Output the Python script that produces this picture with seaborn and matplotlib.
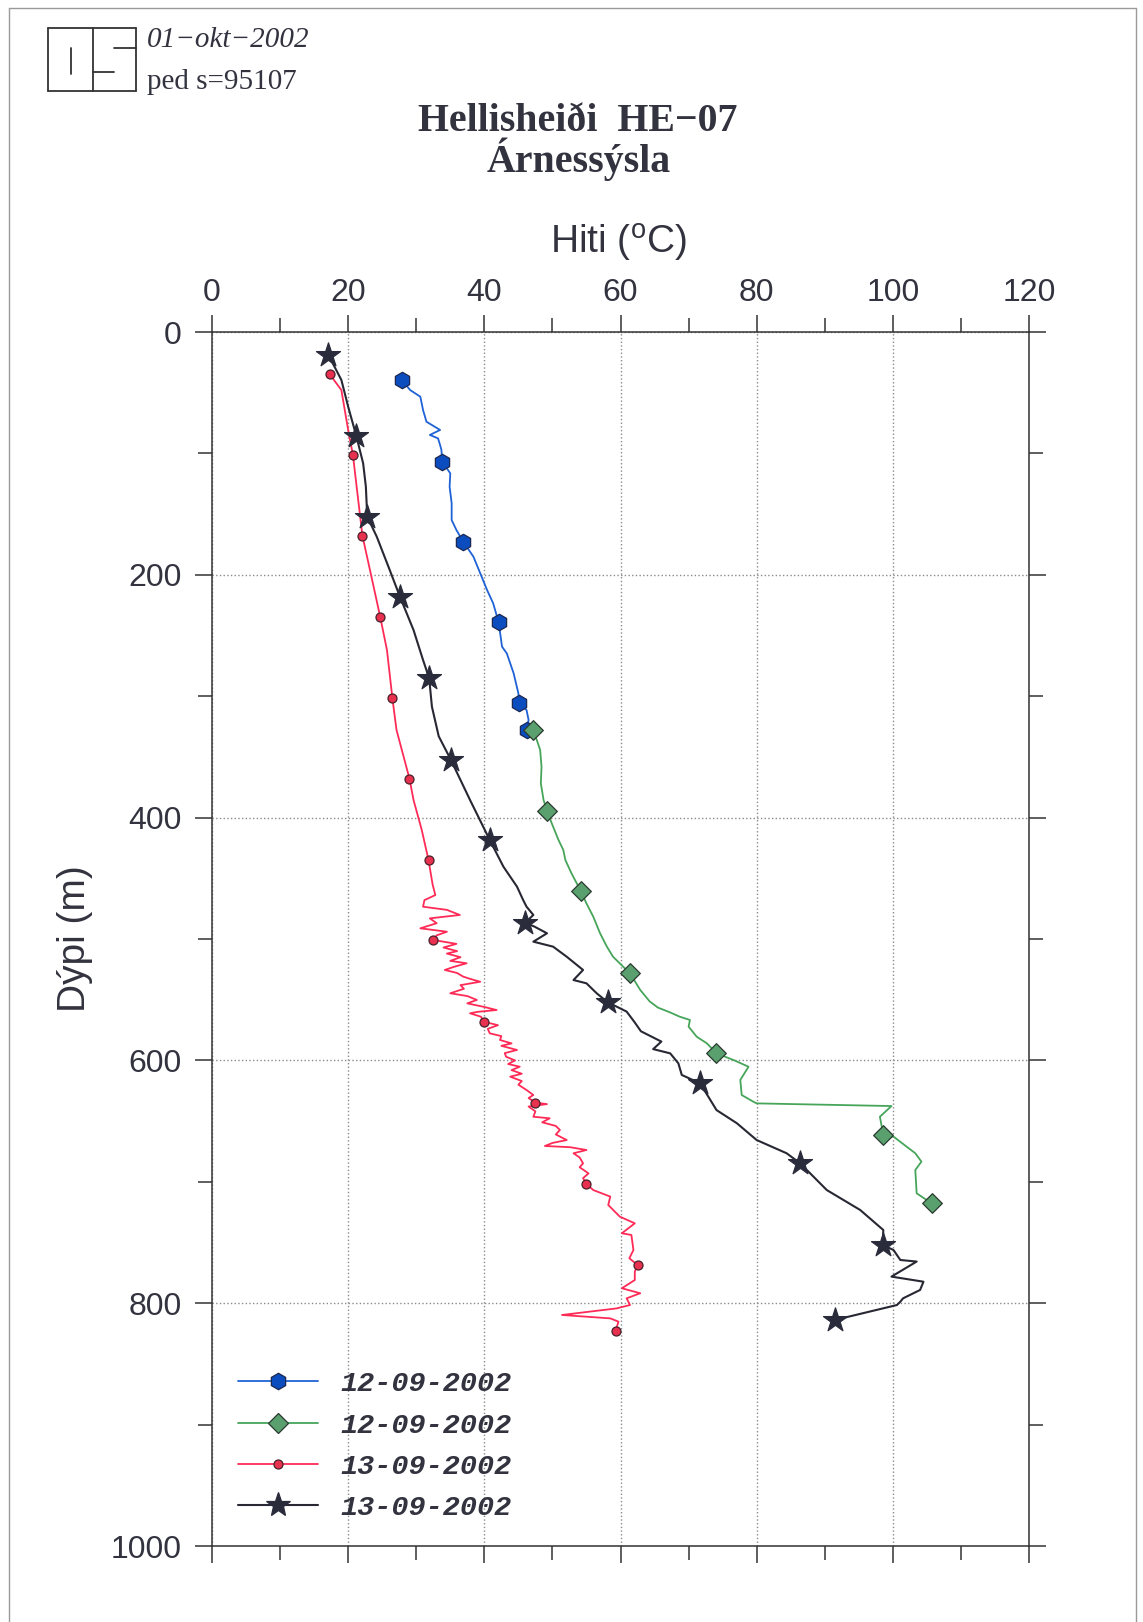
import matplotlib
matplotlib.use("Agg")
import matplotlib.pyplot as plt
import seaborn as sns
from matplotlib.lines import Line2D
from matplotlib.ticker import MultipleLocator
from matplotlib.font_manager import FontProperties

# --- data (temperature degC, depth m) ---
blue_t = [27.9, 29.1, 30.6, 31.0, 31.5, 33.5, 32.0, 33.2, 33.5, 33.7, 33.8, 35.0, 34.9, 35.2, 35.2,
          35.9, 36.9, 38.4, 39.4, 40.4, 41.3, 42.1, 42.6, 43.3, 44.3, 45.0, 45.1, 46.2, 46.5, 46.2]
blue_d = [39.5, 47.8, 53.3, 64.3, 73.9, 80.7, 84.8, 87.6, 93.1, 97.2, 106.8, 116.4, 127.4, 141.1, 154.9,
          163.1, 172.7, 185.1, 198.8, 212.5, 223.5, 239.1, 259.2, 264.7, 281.1, 297.6, 305.9, 311.4, 319.6, 327.8]
blue_mark_t = [27.9, 33.8, 36.9, 42.1, 45.1, 46.2]
blue_mark_d = [39.5, 106.8, 172.7, 239.1, 305.9, 327.8]

green_t = [47.2, 47.7, 48.2, 48.4, 48.3, 48.7, 49.2, 49.9, 50.9, 51.6, 51.9, 52.8, 54.2, 55.0, 56.0,
           57.0, 58.0, 58.9, 61.4, 62.9, 64.3, 65.5, 67.3, 68.7, 70.2, 70.0, 71.2, 72.7, 74.1, 76.6,
           78.8, 77.6, 77.8, 79.5, 80.0, 99.8, 98.1, 98.6, 100.1, 103.3, 104.2, 103.3, 103.5, 105.7]
green_d = [327.8, 336.0, 344.3, 358.0, 371.8, 385.5, 394.3, 404.7, 418.5, 426.7, 434.9, 445.9, 460.8, 470.7, 481.6,
           495.3, 506.3, 514.6, 528.3, 542.0, 551.5, 556.5, 560.5, 564.0, 566.7, 572.2, 580.5, 586.0, 594.2, 599.7,
           605.2, 616.1, 628.5, 634.0, 635.4, 637.6, 646.4, 661.4, 662.8, 676.5, 683.4, 690.3, 709.5, 717.7]
green_mark_t = [47.2, 49.2, 54.2, 61.4, 74.1, 98.6, 105.7]
green_mark_d = [327.8, 394.3, 460.8, 528.3, 594.2, 661.4, 717.7]

red_t = [17.3, 19.0, 20.0, 20.7, 21.3, 22.1, 23.2, 24.7, 25.7, 26.5, 27.1, 29.0, 29.6, 30.8, 31.8,
         32.4, 32.8, 31.2, 31.0, 34.5, 36.4, 32.0, 33.0, 30.6, 34.5, 33.0, 32.5, 35.9, 34.0, 36.0,
         34.5, 36.5, 35.0, 37.4, 35.5, 34.2, 36.0, 36.9, 38.0, 39.4, 36.5, 37.0, 35.0, 37.5, 38.9,
         37.5, 40.0, 41.8, 39.0, 37.9, 39.5, 39.9, 42.0, 40.5, 40.8, 42.5, 42.3, 44.0, 42.5, 44.8,
         43.0, 43.2, 44.5, 43.5, 45.2, 44.0, 45.5, 43.8, 45.5, 45.0, 46.2, 47.2, 46.5, 47.5, 49.2,
         46.5, 47.5, 47.2, 49.6, 48.5, 50.5, 51.1, 50.5, 52.1, 50.0, 48.9, 52.6, 55.0, 53.1, 54.0,
         54.5, 54.0, 55.3, 54.5, 55.0, 56.0, 58.5, 58.2, 59.9, 62.1, 60.2, 61.6, 61.9, 61.3, 62.5,
         62.1, 62.1, 60.2, 62.9, 60.9, 61.4, 59.4, 51.4, 58.5, 59.7, 59.3]
red_d = [34.9, 47.8, 80.7, 101.3, 130.1, 168.0, 196.0, 234.5, 262.0, 301.8, 327.8, 367.8, 385.5, 410.0, 434.9,
         455.0, 463.8, 468.0, 473.4, 476.0, 480.2, 483.0, 487.0, 491.2, 494.0, 497.0, 500.8, 504.0, 507.0, 510.0,
         512.0, 515.0, 518.0, 520.0, 523.0, 525.5, 528.0, 531.0, 533.0, 535.2, 538.0, 541.0, 544.7, 547.0, 550.2,
         553.0, 556.0, 558.5, 560.0, 561.2, 564.0, 568.1, 571.0, 574.0, 577.7, 580.0, 583.2, 586.0, 588.0, 591.4,
         594.0, 597.0, 600.0, 603.0, 605.2, 608.0, 611.0, 613.4, 617.0, 620.0, 624.4, 628.5, 631.0, 634.8, 636.0,
         638.0, 642.0, 646.4, 647.7, 651.0, 654.0, 657.3, 661.0, 665.6, 668.0, 670.5, 671.5, 673.8, 676.5, 680.0,
         684.8, 688.0, 693.1, 697.0, 701.8, 706.8, 712.2, 719.1, 728.7, 734.2, 742.4, 743.8, 756.2, 763.0, 768.5,
         774.0, 780.9, 787.7, 791.8, 796.0, 801.5, 804.3, 809.7, 812.5, 815.2, 822.6]
red_mark_t = [17.3, 20.7, 22.1, 24.7, 26.5, 29.0, 31.8, 32.5, 39.9, 47.5, 55.0, 62.5, 59.3]
red_mark_d = [34.9, 101.3, 168.0, 234.5, 301.8, 367.8, 434.9, 500.8, 568.1, 634.8, 701.8, 768.5, 822.6]

black_t = [17.1, 19.0, 20.0, 21.2, 22.2, 22.6, 22.8, 24.2, 26.1, 27.6, 29.6, 31.0, 31.9, 32.3, 33.3,
           35.1, 37.9, 40.8, 42.8, 44.8, 45.7, 46.2, 47.2, 46.0, 47.4, 49.2, 47.2, 50.1, 52.1, 54.5,
           53.1, 55.0, 56.5, 58.1, 60.9, 62.0, 63.0, 66.0, 64.8, 67.3, 68.5, 69.0, 71.7, 74.1, 77.1,
           80.0, 84.4, 86.4, 90.3, 95.2, 98.6, 98.5, 100.1, 101.1, 103.5, 99.8, 104.5, 104.0, 101.5, 101.1,
           100.6, 91.5]
black_d = [18.9, 39.5, 61.5, 85.7, 108.2, 127.4, 152.1, 168.6, 196.0, 218.0, 245.5, 270.2, 285.3, 308.6, 333.0,
           352.6, 385.5, 418.5, 440.4, 456.9, 467.9, 473.4, 480.2, 486.6, 489.9, 495.3, 502.2, 506.3, 514.6, 525.5,
           533.8, 536.5, 544.7, 552.0, 559.8, 568.0, 576.0, 584.5, 590.7, 594.2, 602.4, 612.0, 618.9, 640.9, 651.8,
           665.6, 676.5, 684.8, 706.8, 723.2, 739.7, 752.0, 756.2, 764.4, 765.7, 778.1, 782.3, 789.1, 796.0, 798.8,
           801.5, 813.8]
black_mark_t = [17.1, 21.2, 22.8, 27.6, 31.9, 35.1, 40.8, 46.0, 58.1, 71.7, 86.4, 98.5, 91.5]
black_mark_d = [18.9, 85.7, 152.1, 218.0, 285.3, 352.6, 418.5, 486.6, 552.0, 618.9, 684.8, 752.0, 813.8]

labels = ["12-09-2002", "12-09-2002", "13-09-2002", "13-09-2002"]

sns.set_style("ticks")
plt.rcParams["font.family"] = ["Liberation Sans", "DejaVu Sans"]

W, H = 1143, 1622
fig = plt.figure(figsize=(W / 100, H / 100), dpi=100)
ax = fig.add_axes([212 / W, 1 - 1546 / H, 817 / W, 1214 / H])

series = [
    (blue_t, blue_d, blue_mark_t, blue_mark_d, "#1f62d6", "h", 140, "#0b4dbf", "#1c2850", 1.3),
    (green_t, green_d, green_mark_t, green_mark_d, "#47a55a", "D", 100, "#5a9f6e", "#2b3a30", 1.3),
    (red_t, red_d, red_mark_t, red_mark_d, "#ff2b57", "o", 42, "#e8314e", "#4a1f2a", 1.3),
    (black_t, black_d, black_mark_t, black_mark_d, "#272833", "*", 330, "#2a2c3c", "#2a2c3c", 1.5),
]

handles = []
for i, (t, d, mt, md, lc, mk, s, fc, ec, lw) in enumerate(series):
    sns.lineplot(x=t, y=d, sort=False, estimator=None, color=lc, lw=lw, ax=ax, zorder=3 + i)
    sns.scatterplot(x=mt, y=md, marker=mk, s=s, color=fc, edgecolor=ec, linewidth=0.9, ax=ax, zorder=3 + i)
    handles.append(Line2D([], [], color=lc, lw=lw, marker=mk, markersize=s ** 0.5,
                          markerfacecolor=fc, markeredgecolor=ec, markeredgewidth=0.9))

ax.set_xlim(0, 120)
ax.set_ylim(1000, 0)
ax.set_xticks(range(0, 121, 20))
ax.set_yticks(range(0, 1001, 200))
ax.xaxis.set_minor_locator(MultipleLocator(10))
ax.yaxis.set_minor_locator(MultipleLocator(100))
ax.grid(True, which="major", ls=":", color="#8a8a8a", lw=1.0)
ax.xaxis.tick_top()
ax.tick_params(which="both", direction="out", top=True, bottom=True, left=True, right=True,
               labeltop=True, labelbottom=False, labelleft=True, labelright=False,
               width=1.1, color="#333333", labelsize=23, labelcolor="#333340")
ax.tick_params(axis="x", which="major", length=12, pad=5)
ax.tick_params(axis="y", which="major", length=12, pad=10)
ax.tick_params(which="minor", length=10)
for sp in ax.spines.values():
    sp.set_visible(True)
    sp.set_color("#333333")
    sp.set_linewidth(1.1)

ax.set_xlabel("Hiti ($^\\mathregular{o}$C)", fontsize=28, color="#333340", va="center")
ax.xaxis.set_label_position("top")
ax.xaxis.set_label_coords(0.498, 1 + (332 - 254) / 1214)
ax.set_ylabel("Dýpi (m)", fontsize=28, color="#333340", va="center")
ax.yaxis.set_label_coords((75 - 212) / 817, 0.5)

leg = ax.legend(handles=handles, labels=labels, loc="upper left", bbox_to_anchor=(0.032, 0.144),
                frameon=False, handlelength=2.8, handletextpad=0.8, labelspacing=0.54,
                borderaxespad=0, borderpad=0,
                prop=FontProperties(family="Liberation Mono", weight="bold", style="italic", size=20.5))
for txt in leg.get_texts():
    txt.set_color("#333340")

# title
fig.text(578 / W, 1 - 131 / H, "Hellisheiði  HE\u221207", ha="center", va="baseline",
         family="Liberation Serif", weight="bold", fontsize=28.7, color="#333340")
fig.text(579 / W, 1 - 172 / H, "Árnessýsla", ha="center", va="baseline",
         family="Liberation Serif", weight="bold", fontsize=28.7, color="#333340")

# logo box and stamp text
def px_line(x0, y0, x1, y1, lw=1.3, color="#333333"):
    fig.add_artist(Line2D([x0 / W, x1 / W], [1 - y0 / H, 1 - y1 / H], transform=fig.transFigure,
                          color=color, lw=lw))

px_line(48, 28, 136, 28)
px_line(48, 91, 136, 91)
px_line(48, 28, 48, 91)
px_line(136, 28, 136, 91)
px_line(93, 28, 93, 91)
px_line(71, 48, 71, 74)
px_line(114, 48, 136, 48)
px_line(93, 72, 114, 72)

fig.text(147 / W, 1 - 47 / H, "01\u2212okt\u22122002", ha="left", va="baseline",
         family="Liberation Serif", style="italic", fontsize=21, color="#333340")
fig.text(147 / W, 1 - 89 / H, "ped s=95107", ha="left", va="baseline",
         family="Liberation Serif", fontsize=21, color="#333340")

# page frame
px_line(9, 8, 1136, 8, lw=1.0, color="#9a9a9a")
px_line(9, 8, 9, 1622, lw=1.0, color="#9a9a9a")
px_line(1136, 8, 1136, 1622, lw=1.0, color="#9a9a9a")

fig.savefig("out.png", dpi=100)
